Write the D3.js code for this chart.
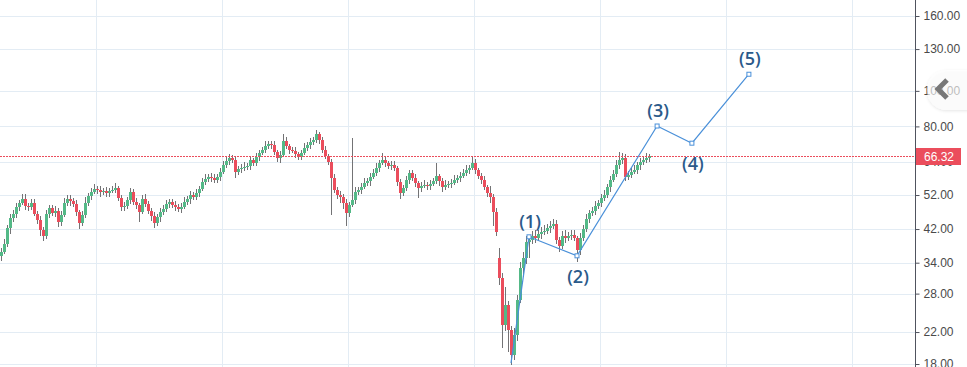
<!DOCTYPE html>
<html>
<head>
<meta charset="utf-8">
<script src="https://cdn.jsdelivr.net/npm/d3@7/dist/d3.min.js"></script>
<style>
  html, body { margin: 0; padding: 0; background: #ffffff; overflow: hidden; }
  svg { display: block; }
</style>
</head>
<body>
<svg id="chart" width="967" height="367"></svg>
<script>
// Daily OHLC series
const opens = [35.50,36.38,38.26,42.29,45.04,46.19,48.26,49.49,50.74,48.57,48.26,49.49,46.19,44.46,41.75,40.23,46.19,47.95,46.48,47.05,
43.92,45.90,49.49,50.74,50.10,49.18,46.76,43.65,45.90,49.49,51.71,53.02,54.02,53.67,53.02,53.34,52.69,53.34,53.67,54.37,
51.06,48.26,48.50,50.41,53.02,49.80,48.87,46.76,50.74,49.18,47.05,45.62,43.65,45.33,46.76,47.65,49.18,49.80,48.87,48.26,
47.65,48.26,49.80,50.74,52.04,51.39,52.69,54.02,56.45,57.52,58.26,57.89,57.15,58.26,60.11,62.83,64.41,65.64,64.80,60.11,
61.25,61.64,62.04,62.43,64.80,63.62,66.06,67.73,68.99,70.78,71.67,71.22,68.15,65.64,66.89,73.01,70.78,68.99,68.57,67.31,
66.06,67.73,69.88,71.22,72.57,73.46,76.32,73.46,68.99,66.48,64.01,57.89,53.67,52.04,51.39,49.49,46.48,48.87,50.41,53.02,
53.67,54.71,56.10,56.80,58.26,59.74,61.64,63.62,64.80,63.62,62.43,62.80,61.64,56.45,52.69,54.37,57.15,59.74,57.89,56.10,
54.37,55.06,55.41,55.06,55.76,56.80,58.63,56.80,54.71,55.41,55.76,56.10,57.15,57.89,58.63,59.74,60.85,61.64,63.62,60.85,
58.63,57.15,54.71,52.69,51.39,46.76,35.04,30.90,23.01,26.09,22.29,19.06,21.61,26.91,32.90,35.04,38.73,39.21,40.23,39.72,
40.73,41.24,41.60,42.29,42.83,43.38,39.21,37.78,40.23,39.72,40.23,40.50,39.72,36.83,39.72,42.02,44.75,46.48,47.05,48.57,
49.49,51.06,52.04,54.71,57.15,59.37,62.83,64.80,65.64,58.26,59.00,60.11,60.85,62.83,64.01,64.80,65.64];

const highs = [37.3,39.4,43.2,46.2,47.3,49.6,50.5,52.2,52.3,49.6,50.7,50.7,46.9,45.5,42.5,47.4,48.9,48.9,48.6,47.8,
47.0,51.0,52.0,52.0,51.1,50.3,47.4,46.9,51.2,52.7,54.3,55.9,55.0,54.9,54.5,54.7,54.3,55.0,56.1,55.2,
52.0,49.8,51.4,54.5,53.9,51.1,49.5,51.9,52.2,50.0,47.9,46.8,46.2,47.9,48.7,50.5,50.8,50.8,50.2,49.2,
49.4,51.4,51.8,53.4,53.1,54.1,55.0,57.8,59.4,59.4,59.6,59.3,59.3,61.7,64.2,66.2,67.3,66.9,66.5,62.4,
63.2,63.9,63.6,66.3,65.8,67.8,68.9,70.5,73.0,73.2,73.1,72.9,68.9,68.4,76.1,74.7,71.6,70.3,70.3,68.2,
69.1,71.9,72.5,74.4,74.9,78.1,77.2,74.7,70.7,67.4,65.1,59.3,54.7,53.4,52.4,50.6,49.8,74.4,54.8,54.8,
56.0,57.8,58.0,59.7,61.1,63.4,64.8,67.6,66.6,64.5,64.2,64.3,62.4,57.6,55.5,58.7,60.9,60.9,59.4,56.9,
56.4,57.1,56.3,57.2,58.0,63.6,59.4,57.8,57.2,56.9,57.4,58.9,59.0,60.1,61.1,62.6,62.8,66.3,65.3,61.7,
59.6,58.5,55.5,55.1,52.3,47.9,37.3,31.9,29.2,26.7,22.85,22.6,27.75,34.1,36.3,40.2,40.5,41.5,41.7,41.85,
42.5,43.1,43.3,44.1,44.6,44.5,39.9,41.4,41.7,41.25,41.7,41.7,40.3,40.9,43.1,46.1,47.45,48.3,50.2,50.55,
52.4,53.8,55.9,58.6,60.7,64.6,68.2,67.5,67.4,60.3,61.6,62.8,64.0,65.7,66.2,67.5,67.35];

const lows = [34.3,35.8,37.5,40.8,43.95,45.1,47.0,48.7,47.4,47.1,47.2,45.45,43.4,40.3,39.0,39.5,45.0,45.6,45.4,42.6,
42.8,45.25,48.5,48.6,48.25,45.7,42.1,42.9,44.9,48.6,50.4,52.2,52.4,51.3,52.1,51.5,51.2,52.5,52.5,50.0,
46.9,47.05,47.6,49.1,48.85,47.7,43.8,46.1,48.1,46.1,44.3,42.15,42.7,44.0,45.95,46.7,47.9,48.0,47.0,46.7,
46.5,47.55,48.8,49.1,50.4,50.3,51.2,53.2,55.3,56.5,56.4,56.2,56.1,56.7,59.3,61.6,62.8,63.6,57.7,58.9,
59.6,60.65,60.7,60.7,62.4,62.5,64.4,66.8,67.7,69.6,69.3,67.05,64.1,63.7,66.0,69.3,67.2,67.5,65.8,64.8,
64.6,66.95,68.7,69.3,71.4,72.2,71.5,67.9,65.0,62.7,45.9,52.7,50.8,49.6,47.65,42.8,45.2,48.1,49.3,52.0,
52.4,53.9,55.0,55.2,57.4,58.7,60.1,62.7,62.1,61.1,60.9,60.65,55.2,50.8,51.8,53.3,55.7,56.85,54.8,51.1,
53.0,54.2,53.8,53.5,54.9,55.8,55.2,53.0,53.5,54.3,54.4,55.3,56.0,56.3,57.7,58.6,59.2,60.8,59.4,57.5,
55.7,53.7,51.4,49.6,42.8,40.2,29.5,19.9,22.2,19.45,17.9,18.45,20.8,26.35,31.0,33.8,35.0,38.35,38.5,38.9,
39.5,40.45,40.6,40.9,41.95,38.2,36.3,37.15,38.5,38.9,39.1,38.9,34.2,35.7,39.0,41.1,43.5,45.7,46.0,47.6,
48.3,50.2,51.0,53.1,56.3,58.3,61.2,63.1,56.9,57.2,57.7,59.25,59.5,60.9,62.9,63.4,64.0];

const closes = [36.38,38.26,42.29,45.04,46.19,48.26,49.49,50.74,48.57,48.26,49.49,46.19,44.46,41.75,40.23,46.19,47.95,46.48,47.05,43.92,
45.90,49.49,50.74,50.10,49.18,46.76,43.65,45.90,49.49,51.71,53.02,54.02,53.67,53.02,53.34,52.69,53.34,53.67,54.37,51.06,
48.26,48.50,50.41,53.02,49.80,48.87,46.76,50.74,49.18,47.05,45.62,43.65,45.33,46.76,47.65,49.18,49.80,48.87,48.26,47.65,
48.26,49.80,50.74,52.04,51.39,52.69,54.02,56.45,57.52,58.26,57.89,57.15,58.26,60.11,62.83,64.41,65.64,64.80,60.11,61.25,
61.64,62.04,62.43,64.80,63.62,66.06,67.73,68.99,70.78,71.67,71.22,68.15,65.64,66.89,73.01,70.78,68.99,68.57,67.31,66.06,
67.73,69.88,71.22,72.57,73.46,76.32,73.46,68.99,66.48,64.01,57.89,53.67,52.04,51.39,49.49,46.48,48.87,50.41,53.02,53.67,
54.71,56.10,56.80,58.26,59.74,61.64,63.62,64.80,63.62,62.43,62.80,61.64,56.45,52.69,54.37,57.15,59.74,57.89,56.10,54.37,
55.06,55.41,55.06,55.76,56.80,58.63,56.80,54.71,55.41,55.76,56.10,57.15,57.89,58.63,59.74,60.85,61.64,63.62,60.85,58.63,
57.15,54.71,52.69,51.39,46.76,41.24,30.90,23.01,26.09,22.29,19.06,21.61,26.91,32.90,35.04,38.73,39.21,40.23,39.72,40.73,
41.24,41.60,42.29,42.83,43.38,39.21,37.78,40.23,39.72,40.23,40.50,39.72,36.83,39.72,42.02,44.75,46.48,47.05,48.57,49.49,
51.06,52.04,54.71,57.15,59.37,62.83,64.80,65.64,58.26,59.00,60.11,60.85,62.83,64.01,64.80,65.64,66.32];

// Price axis ticks (log scale) and the current price
const priceTicks = [18, 22, 28, 34, 42, 52, 64, 80, 100, 130, 160];
const lastPrice = 66.32;

// Time grid, in bar index units
const timeGrid = [31.67, 73.67, 115.67, 157.67, 199.67, 241.67, 283.67];

// Elliott wave count: bar index, price, label
const waveIdx = [170, 176, 192, 218.7, 230.3, 249.3];
const wavePrice = [18.1, 40.0, 35.5, 80.2, 72.0, 111];
const waveLabels = ["", "(1)", "(2)", "(3)", "(4)", "(5)"];
const waveLabelSide = [0, -1, 1, -1, 1, -1];

const W = 967, H = 367, axisX = 915;
const UP = "#53b987", DOWN = "#eb4d5c", WICK = "#737375";

const svg = d3.select("#chart");
const n = closes.length;

const x = d3.scaleLinear().domain([0, n - 1]).range([1, 1 + 3 * (n - 1)]);
const y = d3.scaleLog().domain([18, 160]).range([364, 16]);

// grid
const grid = svg.append("g");
grid.selectAll("line.h").data(priceTicks).join("line")
  .attr("x1", 0).attr("x2", axisX)
  .attr("y1", d => Math.round(y(d)) + 0.5).attr("y2", d => Math.round(y(d)) + 0.5)
  .attr("stroke", "#e3ecf4").attr("stroke-width", 1);
grid.selectAll("line.v").data(timeGrid).join("line")
  .attr("y1", 0).attr("y2", H)
  .attr("x1", d => Math.round(x(d)) + 0.5).attr("x2", d => Math.round(x(d)) + 0.5)
  .attr("stroke", "#e3ecf4").attr("stroke-width", 1);

// candles: wicks first, bodies on top
const idx = d3.range(n);
const candles = svg.append("g").attr("shape-rendering", "crispEdges");
candles.selectAll("rect.wick").data(idx).join("rect")
  .attr("x", i => Math.round(x(i)))
  .attr("width", 1)
  .attr("y", i => y(highs[i]))
  .attr("height", i => Math.max(1, y(lows[i]) - y(highs[i])))
  .attr("fill", WICK);
candles.selectAll("rect.body").data(idx).join("rect")
  .attr("x", i => Math.round(x(i)) - 1)
  .attr("width", 3)
  .attr("y", i => y(Math.max(opens[i], closes[i])))
  .attr("height", i => Math.max(1, Math.abs(y(opens[i]) - y(closes[i]))))
  .attr("fill", i => closes[i] >= opens[i] ? UP : DOWN);

// current price line
const py = Math.round(y(lastPrice)) + 0.5;
svg.append("line")
  .attr("x1", 0).attr("x2", axisX).attr("y1", py).attr("y2", py)
  .attr("stroke", DOWN).attr("stroke-width", 1).attr("stroke-dasharray", "2,1");

// wave drawing
const wave = d3.range(waveIdx.length).map(i => [x(waveIdx[i]), y(wavePrice[i])]);
svg.append("path")
  .attr("d", d3.line()(wave))
  .attr("fill", "none").attr("stroke", "#4a90d9").attr("stroke-width", 1.2);
svg.selectAll("rect.vertex").data(wave.slice(1)).join("rect")
  .attr("x", d => d[0] - 2).attr("y", d => d[1] - 2)
  .attr("width", 4).attr("height", 4)
  .attr("fill", "#ffffff").attr("stroke", "#4a90d9").attr("stroke-width", 1);
svg.selectAll("text.wave").data(d3.range(1, waveIdx.length)).join("text")
  .attr("x", i => wave[i][0] + 1)
  .attr("y", i => waveLabelSide[i] < 0 ? wave[i][1] - 9 : wave[i][1] + 27)
  .attr("text-anchor", "middle")
  .attr("font-family", "'Open Sans', 'Noto Sans', sans-serif")
  .attr("font-size", 18)
  .attr("font-weight", 600)
  .attr("fill", "#2b5a8a")
  .text(i => waveLabels[i]);

// price axis
const axis = d3.axisRight(y)
  .tickValues(priceTicks)
  .tickFormat(d3.format(".2f"))
  .tickSize(4)
  .tickSizeOuter(0)
  .tickPadding(4);
const ag = svg.append("g").attr("transform", `translate(${axisX + 0.5},0)`).call(axis);
ag.select(".domain").remove();
ag.selectAll(".tick line").attr("stroke", "#50535e");
ag.selectAll(".tick text")
  .attr("font-family", "'Liberation Sans', Arial, sans-serif")
  .attr("font-size", 12)
  .attr("fill", "#4a4a4a");
svg.append("line")
  .attr("x1", axisX + 0.5).attr("x2", axisX + 0.5).attr("y1", 0).attr("y2", H)
  .attr("stroke", "#50535e").attr("stroke-width", 1);

// current price tag
svg.append("rect")
  .attr("x", axisX + 1).attr("y", Math.round(y(lastPrice)) - 8)
  .attr("width", 45).attr("height", 17)
  .attr("fill", DOWN);
svg.append("text")
  .attr("x", axisX + 9).attr("y", Math.round(y(lastPrice)) + 4.5)
  .attr("font-family", "'Liberation Sans', Arial, sans-serif")
  .attr("font-size", 12)
  .attr("fill", "#ffffff")
  .text(d3.format(".2f")(lastPrice));

// collapse button on the right edge
const defs = svg.append("defs");
const f = defs.append("filter").attr("id", "btnShadow")
  .attr("x", "-30%").attr("y", "-30%").attr("width", "160%").attr("height", "160%");
f.append("feDropShadow").attr("dx", 0).attr("dy", 1).attr("stdDeviation", 1.5)
  .attr("flood-color", "#000000").attr("flood-opacity", 0.16);
svg.append("rect")
  .attr("x", 927).attr("y", 70).attr("width", 70).attr("height", 40).attr("rx", 20)
  .attr("fill", "#ffffff").attr("fill-opacity", 0.62)
  .attr("filter", "url(#btnShadow)");
svg.append("polyline")
  .attr("points", "947,80 938,89 947,98")
  .attr("fill", "none").attr("stroke", "#787878").attr("stroke-width", 5)
  .attr("stroke-linejoin", "miter");
</script>
</body>
</html>
